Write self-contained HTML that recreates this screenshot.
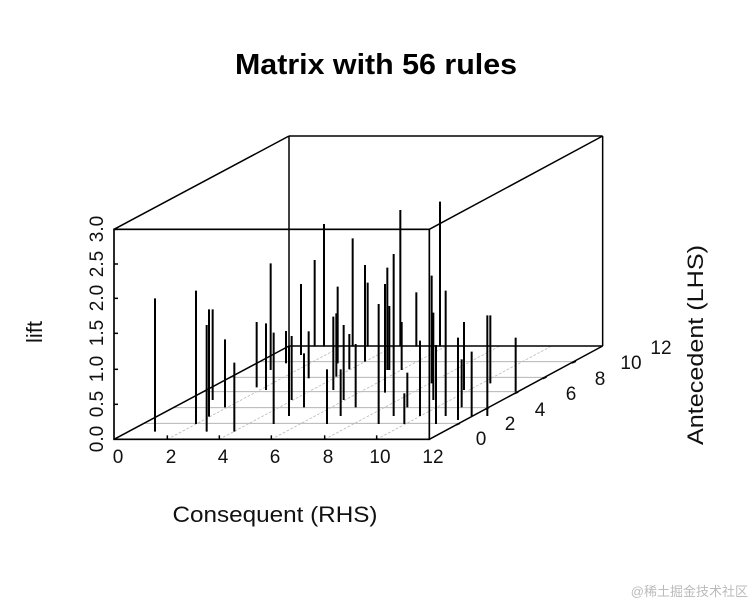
<!DOCTYPE html>
<html><head><style>body{margin:0;background:#fff}svg{display:block}</style></head>
<body>
<svg width="756" height="606" viewBox="0 0 756 606" xmlns="http://www.w3.org/2000/svg" font-family="Liberation Sans, Arial, sans-serif">
<text x="376" y="74" font-size="29" font-weight="bold" text-anchor="middle" textLength="282" lengthAdjust="spacingAndGlyphs">Matrix with 56 rules</text>
<g transform="translate(100,130) scale(0.33333)" fill="none">
<g stroke="#aaa" stroke-width="2.5">
<line x1="131" y1="880" x2="1078" y2="880"/>
<line x1="219" y1="833" x2="1166" y2="833"/>
<line x1="309" y1="785" x2="1255" y2="785"/>
<line x1="389" y1="742" x2="1336" y2="742"/>
<line x1="477" y1="695" x2="1424" y2="695"/>
</g>
<g stroke="#bbb" stroke-width="2.5" stroke-dasharray="8,5">
<line x1="202" y1="928" x2="727" y2="648"/>
<line x1="358" y1="928" x2="883" y2="648"/>
<line x1="514" y1="928" x2="1039" y2="648"/>
<line x1="674" y1="928" x2="1199" y2="648"/>
<line x1="830" y1="928" x2="1355" y2="648"/>
</g>
<g stroke="#000" stroke-width="4.5">
<line x1="567" y1="18" x2="567" y2="648"/>
<line x1="567" y1="18" x2="1508" y2="18"/>
<line x1="1508" y1="18" x2="1508" y2="648"/>
<line x1="567" y1="648" x2="1508" y2="648"/>
<line x1="42" y1="298" x2="567" y2="18"/>
<line x1="988" y1="298" x2="1508" y2="18"/>
<line x1="42" y1="928" x2="567" y2="648"/>
<line x1="988" y1="928" x2="1508" y2="648"/>
</g>
<g stroke="#000" stroke-width="6">
<line x1="165" y1="505" x2="165" y2="905"/>
<line x1="288" y1="482" x2="288" y2="882"/>
<line x1="320" y1="585" x2="320" y2="905"/>
<line x1="327" y1="538" x2="327" y2="860"/>
<line x1="338" y1="538" x2="338" y2="810"/>
<line x1="375" y1="628" x2="375" y2="832"/>
<line x1="403" y1="698" x2="403" y2="905"/>
<line x1="470" y1="576" x2="470" y2="772"/>
<line x1="498" y1="580" x2="498" y2="780"/>
<line x1="512" y1="400" x2="512" y2="720"/>
<line x1="521" y1="608" x2="521" y2="882"/>
<line x1="558" y1="603" x2="558" y2="700"/>
<line x1="567" y1="648" x2="567" y2="858"/>
<line x1="575" y1="618" x2="575" y2="810"/>
<line x1="603" y1="462" x2="603" y2="675"/>
<line x1="612" y1="670" x2="612" y2="832"/>
<line x1="626" y1="604" x2="626" y2="745"/>
<line x1="644" y1="390" x2="644" y2="650"/>
<line x1="672" y1="282" x2="672" y2="650"/>
<line x1="681" y1="718" x2="681" y2="882"/>
<line x1="700" y1="560" x2="700" y2="780"/>
<line x1="709" y1="550" x2="709" y2="740"/>
<line x1="713" y1="470" x2="713" y2="700"/>
<line x1="722" y1="718" x2="722" y2="858"/>
<line x1="731" y1="585" x2="731" y2="810"/>
<line x1="748" y1="612" x2="748" y2="718"/>
<line x1="758" y1="325" x2="758" y2="650"/>
<line x1="767" y1="642" x2="767" y2="832"/>
<line x1="795" y1="405" x2="795" y2="695"/>
<line x1="803" y1="458" x2="803" y2="650"/>
<line x1="836" y1="522" x2="836" y2="882"/>
<line x1="855" y1="462" x2="855" y2="788"/>
<line x1="862" y1="413" x2="862" y2="720"/>
<line x1="868" y1="528" x2="868" y2="720"/>
<line x1="881" y1="372" x2="881" y2="858"/>
<line x1="901" y1="240" x2="901" y2="650"/>
<line x1="905" y1="576" x2="905" y2="720"/>
<line x1="913" y1="790" x2="913" y2="882"/>
<line x1="922" y1="728" x2="922" y2="832"/>
<line x1="949" y1="487" x2="949" y2="650"/>
<line x1="960" y1="632" x2="960" y2="858"/>
<line x1="995" y1="437" x2="995" y2="760"/>
<line x1="1000" y1="548" x2="1000" y2="810"/>
<line x1="1008" y1="645" x2="1008" y2="882"/>
<line x1="1020" y1="215" x2="1020" y2="650"/>
<line x1="1037" y1="482" x2="1037" y2="858"/>
<line x1="1074" y1="623" x2="1074" y2="870"/>
<line x1="1085" y1="688" x2="1085" y2="832"/>
<line x1="1092" y1="576" x2="1092" y2="780"/>
<line x1="1115" y1="665" x2="1115" y2="858"/>
<line x1="1162" y1="556" x2="1162" y2="858"/>
<line x1="1171" y1="556" x2="1171" y2="760"/>
<line x1="1247" y1="623" x2="1247" y2="785"/>
</g>
<g stroke="#000" stroke-width="5">
<rect x="42" y="298" width="946" height="630"/>
</g>
<g stroke="#000" stroke-width="4.5">
<line x1="42" y1="298" x2="54" y2="298"/><line x1="42" y1="402" x2="54" y2="402"/><line x1="42" y1="505" x2="54" y2="505"/><line x1="42" y1="610" x2="54" y2="610"/><line x1="42" y1="718" x2="54" y2="718"/><line x1="42" y1="823" x2="54" y2="823"/>
<line x1="202" y1="928" x2="202" y2="916"/><line x1="358" y1="928" x2="358" y2="916"/><line x1="514" y1="928" x2="514" y2="916"/><line x1="674" y1="928" x2="674" y2="916"/><line x1="830" y1="928" x2="830" y2="916"/>
<line x1="1068" y1="885" x2="1080" y2="880"/><line x1="1155" y1="838" x2="1167" y2="833"/><line x1="1243" y1="791" x2="1255" y2="786"/><line x1="1328" y1="746" x2="1340" y2="741"/><line x1="1416" y1="699" x2="1428" y2="694"/>
</g>
</g>
<g font-size="19" fill="#111" text-anchor="middle">
<text x="118" y="463">0</text><text x="171" y="463">2</text><text x="223" y="463">4</text><text x="275" y="463">6</text><text x="328" y="463">8</text><text x="380" y="463">10</text><text x="433" y="463">12</text>
<text x="481" y="445">0</text><text x="510" y="430">2</text><text x="540" y="416">4</text><text x="571" y="400">6</text><text x="600" y="385">8</text><text x="631" y="369">10</text><text x="661" y="354">12</text>
<g transform="translate(103,0) rotate(-90)">
<text x="-439" y="0">0.0</text><text x="-404" y="0">0.5</text><text x="-369" y="0">1.0</text><text x="-333" y="0">1.5</text><text x="-298" y="0">2.0</text><text x="-264" y="0">2.5</text><text x="-229" y="0">3.0</text>
</g>
</g>
<g font-size="22" fill="#111" text-anchor="middle">
<text x="275" y="522" textLength="205" lengthAdjust="spacingAndGlyphs">Consequent (RHS)</text>
<text transform="translate(42,332) rotate(-90)">lift</text>
<text transform="translate(703,345) rotate(-90)" textLength="200" lengthAdjust="spacingAndGlyphs">Antecedent (LHS)</text>
</g>
<text x="748" y="596" font-size="13" fill="#bbb" text-anchor="end" font-family="Liberation Sans, Noto Sans CJK SC, sans-serif">@稀土掘金技术社区</text>
</svg>
</body></html>
